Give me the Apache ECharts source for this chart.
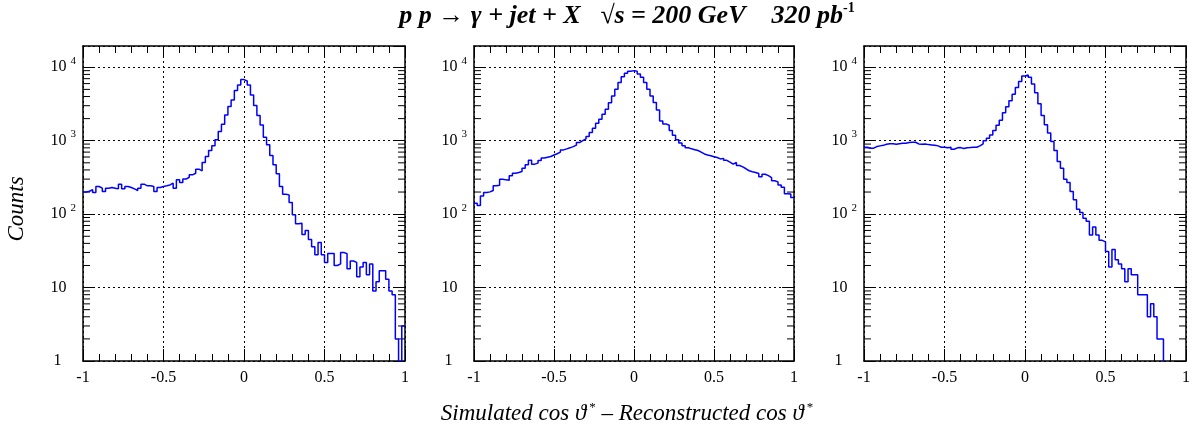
<!DOCTYPE html>
<html>
<head>
<meta charset="utf-8">
<script src="https://cdn.jsdelivr.net/npm/echarts@6/dist/echarts.min.js"></script>
<style>
html,body{margin:0;padding:0;background:#fff;}
#chart{width:1202px;height:438px;}
</style>
</head>
<body>
<div id="chart"></div>
<script>
// ---------- data ----------
const binLow = -1;          // lower edge of first bin
const binWidth = 0.02;      // 100 bins from -1 to 1
const xTickValues = [-1, -0.5, 0, 0.5, 1];
const yDecades = [1, 10, 100, 1000, 10000];
const yMinorTicks = [2,3,4,5,6,7,8,9, 20,30,40,50,60,70,80,90, 200,300,400,500,600,700,800,900, 2000,3000,4000,5000,6000,7000,8000,9000];

const leftCounts = [
  200, 205, 215, 197, 238, 226, 203, 226, 231, 226,
  221, 256, 221, 238, 231, 221, 210, 226, 256, 243,
  243, 238, 203, 231, 238, 243, 250, 264, 226, 293,
  270, 300, 318, 343, 361, 410, 389, 505, 610, 735,
  851, 1027, 1333, 1677, 2245, 2916, 3595, 4818, 5754, 6800,
  6500, 5750, 4210, 3010, 2200, 1640, 1115, 878, 628, 469,
  354, 238, 187, 183, 144, 98, 74, 75, 53, 60,
  45, 36, 28, 41, 28, 22, 29, 29, 20, 21,
  30, 29, 18, 23, 22, 14, 19, 22, 15, 21,
  9, 12, 17, 17, 13, 9, 8, 2, 0, 3
];
const middleCounts = [
  141, 131, 177, 197, 201, 210, 243, 248, 299, 293,
  290, 333, 360, 369, 380, 423, 470, 540, 480, 495,
  537, 580, 597, 610, 640, 665, 700, 750, 775, 800,
  830, 870, 944, 1000, 1060, 1140, 1290, 1480, 1730, 1960,
  2300, 2690, 3300, 4080, 5020, 6190, 7460, 8280, 8830, 9010,
  8830, 8110, 7310, 6185, 5020, 4075, 3305, 2630, 1850, 1695,
  1625, 1375, 1188, 1030, 930, 855, 800, 775, 755, 735,
  700, 660, 640, 625, 605, 590, 565, 575, 540, 510,
  480, 505, 460, 440, 415, 390, 378, 370, 358, 322,
  350, 335, 315, 285, 275, 250, 232, 190, 188, 168
];
const rightCounts = [
  816, 791, 791, 833, 851, 865, 893, 910, 910, 893,
  910, 924, 924, 944, 954, 954, 905, 893, 905, 885,
  877, 868, 851, 816, 816, 800, 816, 766, 800, 806,
  782, 800, 806, 816, 816, 851, 905, 1000, 1080, 1200,
  1380, 1620, 1900, 2400, 2900, 3500, 4300, 5300, 6400, 7600,
  7850, 7300, 5900, 4500, 3200, 2200, 1650, 1270, 975, 735,
  521, 423, 299, 270, 203, 157, 117, 105, 88, 80,
  52, 67, 52, 44, 42, 31, 19, 33, 24, 21,
  18, 12, 18, 15, 15, 8, 8, 8, 4, 6,
  4, 2, 2, 0, 0, 0, 0, 0, 0, 0
];
const panels = [leftCounts, middleCounts, rightCounts];

// ---------- layout / style ----------
const FONT = '"Liberation Serif", "Times New Roman", "DejaVu Serif", serif';
const Y_MIN = 1, Y_MAX = 19500;
const grids = [
  {left: 83,  top: 46, width: 322, height: 315},
  {left: 474, top: 46, width: 320, height: 315},
  {left: 864, top: 46, width: 322, height: 315}
];
const frameLine = {show: true, onZero: false, lineStyle: {color: '#000', width: 1.5}};
const dotted = {show: true, lineStyle: {color: '#000', width: 1, type: [2, 3]}};

function histPoints(counts) {
  const pts = [];
  for (let i = 0; i < counts.length; i++) {
    const c = counts[i] > 0 ? counts[i] : 1e-3; // empty bins fall below the axis
    pts.push([binLow + i * binWidth, c]);
  }
  const last = counts[counts.length - 1] > 0 ? counts[counts.length - 1] : 1e-3;
  pts.push([binLow + counts.length * binWidth, last]);
  return pts;
}

function yLabel(v) {
  const e = Math.round(Math.log10(v));
  if (e === 0) return '{n|1}{p1| }';
  if (e === 1) return '{n|10}{p2| }';
  return '{n|10}{sup|' + e + '}';
}
const yRich = {
  n: {fontFamily: FONT, fontSize: 16, lineHeight: 24, color: '#000'},
  sup: {fontFamily: FONT, fontSize: 11, lineHeight: 11, verticalAlign: 'top', padding: [0, 0, 0, 4], color: '#000'},
  p1: {width: 14.5, fontSize: 11},
  p2: {width: 9.5, fontSize: 11}
};

const xAxes = [], yAxes = [], series = [];
grids.forEach((g, i) => {
  xAxes.push({
    type: 'value', gridIndex: i, position: 'bottom',
    min: xTickValues[0], max: xTickValues[xTickValues.length - 1], interval: 0.5,
    axisLine: frameLine,
    axisTick: {show: true, inside: true, length: 12, lineStyle: {color: '#000', width: 1}},
    minorTick: {show: true, splitNumber: 5, length: 7, lineStyle: {color: '#000', width: 1}},
    axisLabel: {show: true, margin: 9, color: '#000', fontFamily: FONT, fontSize: 16},
    splitLine: dotted,
    minorSplitLine: {show: false}
  });
});
grids.forEach((g, i) => {
  xAxes.push({
    type: 'value', gridIndex: i, position: 'top',
    min: xTickValues[0], max: xTickValues[xTickValues.length - 1], interval: 0.5,
    axisLine: frameLine,
    axisTick: {show: true, inside: true, length: 12, lineStyle: {color: '#000', width: 1}},
    minorTick: {show: true, splitNumber: 5, length: 7, lineStyle: {color: '#000', width: 1}},
    axisLabel: {show: false},
    splitLine: {show: false}
  });
});
grids.forEach((g, i) => {
  yAxes.push({
    type: 'log', logBase: 10, gridIndex: i, position: 'left',
    min: Y_MIN, max: Y_MAX,
    axisLine: frameLine,
    axisTick: {show: true, inside: true, length: 12, lineStyle: {color: '#000', width: 1}},
    axisLabel: {show: true, margin: 7, formatter: yLabel, rich: yRich, showMaxLabel: false, showMinLabel: true},
    splitLine: dotted
  });
});
grids.forEach((g, i) => {
  yAxes.push({
    type: 'log', logBase: 10, gridIndex: i, position: 'right',
    min: Y_MIN, max: Y_MAX,
    axisLine: frameLine,
    axisTick: {show: true, inside: true, length: 12, lineStyle: {color: '#000', width: 1}},
    axisLabel: {show: false},
    splitLine: {show: false}
  });
});

panels.forEach((counts, i) => {
  series.push({
    type: 'custom', xAxisIndex: i, yAxisIndex: i, silent: true, clip: false,
    data: yMinorTicks.map(v => [binLow, v]),
    renderItem: function (params, api) {
      const v = api.value(1);
      const a = api.coord([xTickValues[0], v]);
      const b = api.coord([xTickValues[xTickValues.length - 1], v]);
      return {type: 'group', children: [
        {type: 'line', shape: {x1: a[0], y1: a[1], x2: a[0] + 7, y2: a[1]}, style: {stroke: '#000', lineWidth: 1}},
        {type: 'line', shape: {x1: b[0] - 7, y1: b[1], x2: b[0], y2: b[1]}, style: {stroke: '#000', lineWidth: 1}}
      ]};
    }
  });
  series.push({
    type: 'line', xAxisIndex: i, yAxisIndex: i,
    data: histPoints(counts), step: 'end',
    symbol: 'none', showSymbol: false, clip: true,
    lineStyle: {color: '#0000ff', width: 1.5},
    z: 5
  });
});

const option = {
  animation: false,
  backgroundColor: '#fff',
  grid: grids,
  xAxis: xAxes,
  yAxis: yAxes,
  series: series,
  graphic: [
    {
      type: 'text', x: 627, y: 1,
      style: {
        text: '{m|p p \u2192 \u03b3 + jet + X   \u221as = 200 GeV    320 pb}{s|-1}',
        align: 'center', verticalAlign: 'top', textAlign: 'center', textVerticalAlign: 'top',
        fill: '#000',
        rich: {
          m: {fontFamily: FONT, fontSize: 26, fontWeight: 'bold', fontStyle: 'italic', lineHeight: 30, fill: '#000', color: '#000'},
          s: {fontFamily: FONT, fontSize: 14, fontWeight: 'bold', lineHeight: 14, verticalAlign: 'top', fill: '#000', color: '#000'}
        }
      }
    },
    {
      type: 'text', x: 17, y: 209, rotation: Math.PI / 2,
      style: {
        text: 'Counts', align: 'center', verticalAlign: 'middle', textAlign: 'center', textVerticalAlign: 'middle',
        fill: '#000', fontFamily: FONT, fontSize: 23, fontStyle: 'italic'
      }
    },
    {
      type: 'text', x: 627, y: 414,
      style: {
        text: '{m|Simulated cos \u03d1}{s|*}{m| \u2013 Reconstructed cos \u03d1}{s|*}',
        align: 'center', verticalAlign: 'middle', textAlign: 'center', textVerticalAlign: 'middle',
        fill: '#000',
        rich: {
          m: {fontFamily: FONT, fontSize: 23, fontStyle: 'italic', lineHeight: 26, fill: '#000', color: '#000'},
          s: {fontFamily: FONT, fontSize: 13, lineHeight: 12, verticalAlign: 'top', padding: [0, 0, 0, 3], fill: '#000', color: '#000'}
        }
      }
    }
  ]
};

const chart = echarts.init(document.getElementById('chart'), null, {renderer: 'canvas'});
chart.setOption(option);
</script>
</body>
</html>
